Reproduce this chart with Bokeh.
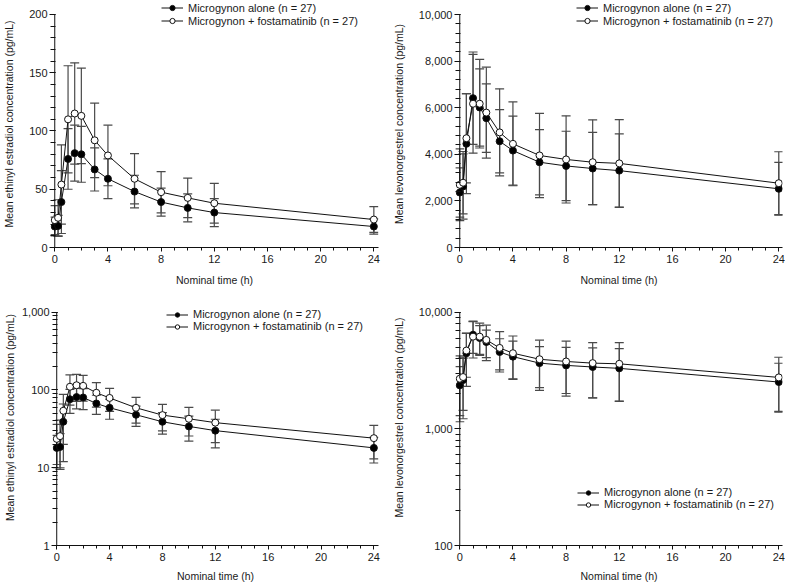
from bokeh.plotting import figure
from bokeh.models import (ColumnDataSource, Whisker, TeeHead, Legend, LegendItem, Range1d,
                          SingleIntervalTicker, LogTicker, NumeralTickFormatter)
from bokeh.layouts import column, row
from bokeh.embed import file_html
from bokeh.resources import INLINE

# ---------------- data ----------------
time_h = [0, 0.25, 0.5, 1, 1.5, 2, 3, 4, 6, 8, 10, 12, 24]

ee_alone_mean = [18, 18.5, 39, 76, 81, 80, 67, 59, 48, 39, 34, 30, 18]
ee_alone_sd = [8, 9, 27, 26, 24, 24, 18.5, 17, 14, 12, 12, 12, 6.5]
ee_fosta_mean = [23.5, 25.5, 54, 110, 115, 113, 92, 79, 59, 47.5, 42.6, 38, 24]
ee_fosta_sd = [12.5, 15.5, 34, 46, 43.5, 41, 32, 26, 21.5, 17.7, 17, 17, 11]

lng_alone_mean = [2360, 2620, 4450, 6410, 6010, 5550, 4560, 4160, 3660, 3500, 3390, 3300, 2520]
lng_alone_sd = [1060, 1400, 2140, 1980, 1660, 1470, 1360, 1480, 1400, 1490, 1550, 1580, 1130]
lng_fosta_mean = [2690, 2780, 4690, 6170, 6170, 5790, 4940, 4450, 3950, 3780, 3660, 3610, 2760]
lng_fosta_sd = [1540, 1340, 1920, 2120, 1900, 1950, 1870, 1800, 1810, 1870, 1820, 1880, 1350]

label_alone = "Microgynon alone (n = 27)"
label_fosta = "Microgynon + fostamatinib (n = 27)"
ylabel_ee = "Mean ethinyl estradiol concentration (pg/mL)"
ylabel_lng = "Mean levonorgestrel concentration (pg/mL)"
xlabel = "Nominal time (h)"

FONT = "Liberation Sans"
TXT = "#1a1a1a"
BAR = "#4a4a4a"
AX = "#111111"


def make_panel(mean_a, sd_a, mean_f, sd_f, ylabel, width, height, log,
               y_bounds, y_rng, y_interval, x_rng, b_left, b_right, b_bottom,
               ylab_standoff, xlab_standoff, leg_loc, leg_row_h):
    kw = dict(width=width, height=height, output_backend="svg", toolbar_location=None,
              x_range=Range1d(*x_rng), y_range=Range1d(*y_rng),
              min_border_left=b_left, min_border_right=b_right,
              min_border_top=0, min_border_bottom=b_bottom)
    if log:
        kw["y_axis_type"] = "log"
    p = figure(**kw)
    p.outline_line_color = None
    p.xgrid.visible = False
    p.ygrid.visible = False
    p.background_fill_color = "white"
    p.border_fill_color = "white"

    # y axis line at x = 0 (frame is slightly wider so markers at t=0 are not cut)
    p.segment(x0=[0], x1=[0], y0=[y_bounds[0]], y1=[y_bounds[1]],
              line_color=AX, line_width=1)

    sources = []
    for mean, sd in ((mean_a, sd_a), (mean_f, sd_f)):
        src = ColumnDataSource(dict(
            x=time_h, y=mean,
            upper=[m + s for m, s in zip(mean, sd)],
            lower=[m - s for m, s in zip(mean, sd)]))
        w = Whisker(source=src, base="x", upper="upper", lower="lower", dimension="height",
                    line_color=BAR, line_width=1.2,
                    upper_head=TeeHead(size=9, line_color=BAR, line_width=1.2),
                    lower_head=TeeHead(size=9, line_color=BAR, line_width=1.2))
        p.add_layout(w)
        sources.append(src)

    rends = []
    for src, fill in zip(sources, ("black", "white")):
        ln = p.line("x", "y", source=src, line_color=AX, line_width=1)
        sc = p.scatter("x", "y", source=src, marker="circle", size=7,
                       fill_color=fill, line_color=AX, line_width=1)
        rends.append([ln, sc])

    legend = Legend(items=[LegendItem(label=label_alone, renderers=rends[0]),
                           LegendItem(label=label_fosta, renderers=rends[1])],
                    location=leg_loc, orientation="vertical",
                    label_text_font=FONT, label_text_font_size="11px", label_text_color=TXT,
                    glyph_width=22, glyph_height=leg_row_h, label_height=leg_row_h,
                    label_standoff=5, spacing=0, padding=0, margin=0,
                    border_line_color=None, background_fill_alpha=0)
    p.add_layout(legend)

    # axes
    p.xaxis.ticker = SingleIntervalTicker(interval=4, num_minor_ticks=4)
    p.xaxis.bounds = (0, x_rng[1])
    if log:
        p.yaxis.ticker = LogTicker(num_minor_ticks=10)
    else:
        p.yaxis.ticker = SingleIntervalTicker(interval=y_interval, num_minor_ticks=5)
    p.yaxis.bounds = y_bounds
    p.yaxis.formatter = NumeralTickFormatter(format="0,0")
    p.xaxis.axis_label = xlabel
    p.yaxis.axis_label = ylabel
    for ax in (p.xaxis[0], p.yaxis[0]):
        ax.axis_line_color = AX
        ax.axis_line_width = 1
        ax.major_tick_line_color = AX
        ax.minor_tick_line_color = AX
        ax.major_label_text_font = FONT
        ax.major_label_text_font_size = "11px"
        ax.major_label_text_color = TXT
        ax.axis_label_text_font = FONT
        ax.axis_label_text_font_size = "10.5px"
        ax.axis_label_text_font_style = "normal"
        ax.axis_label_text_color = TXT
    xa = p.xaxis[0]
    xa.major_tick_in = 0
    xa.major_tick_out = 4
    xa.minor_tick_in = 0
    xa.minor_tick_out = 3
    xa.major_label_standoff = 3
    xa.axis_label_standoff = xlab_standoff
    ya = p.yaxis[0]
    ya.axis_line_color = None
    ya.major_tick_in = 5
    ya.major_tick_out = 1
    ya.minor_tick_in = 5
    ya.minor_tick_out = 0
    ya.major_label_standoff = 2
    ya.axis_label_standoff = ylab_standoff
    return p


LW, RW = 389, 396
TH, BH = 289, 297

X_LEFT = (-0.32, 24.35)
X_RIGHT = (-0.32, 24.28)

p1 = make_panel(ee_alone_mean, ee_alone_sd, ee_fosta_mean, ee_fosta_sd, ylabel_ee,
                LW, TH, False, (0, 200), (0, 212.0), 50, X_LEFT, 49, 11, 42,
                11, 8, (111, 220), 13)
p2 = make_panel(lng_alone_mean, lng_alone_sd, lng_fosta_mean, lng_fosta_sd, ylabel_lng,
                RW, TH, False, (0, 10000), (0, 10601), 2000, X_RIGHT, 65, 3, 42,
                11, 8, (121, 220), 13)
p3 = make_panel(ee_alone_mean, ee_alone_sd, ee_fosta_mean, ee_fosta_sd, ylabel_ee,
                LW, BH, True, (1, 1000), (1, 1958), None, X_LEFT, 49, 11, 41,
                3, 6, (114, 213), 11)
p4 = make_panel(lng_alone_mean, lng_alone_sd, lng_fosta_mean, lng_fosta_sd, ylabel_lng,
                RW, BH, True, (100, 10000), (100, 15650), None, X_RIGHT, 65, 3, 41,
                11, 6, (122, 35), 11)

layout = column(row(p1, p2), row(p3, p4))
open("out.html", "w").write(file_html(layout, INLINE))
